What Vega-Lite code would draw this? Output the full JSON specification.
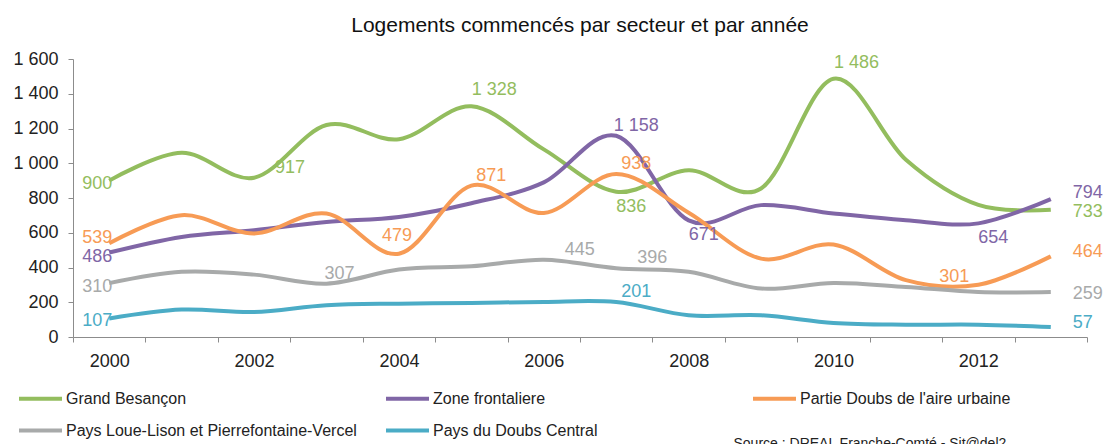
{
  "$schema": "https://vega.github.io/schema/vega-lite/v6.json",
  "width": 1014,
  "height": 278,
  "autosize": {"type": "none"},
  "padding": {"left": 73, "top": 59, "right": 18, "bottom": 107},
  "background": "white",
  "config": {
    "locale": {"number": {"decimal": ",", "thousands": " ", "grouping": [3], "currency": ["", " €"]}},
    "font": "Liberation Sans",
    "view": {"stroke": null}
  },
  "title": {
    "text": "Logements commencés par secteur et par année",
    "fontSize": 21,
    "fontWeight": "normal",
    "color": "#111111",
    "anchor": "middle",
    "offset": 14
  },
  "data": {
    "values": [
      {"secteur": "Grand Besançon", "annee": 2000, "logements": 900},
      {"secteur": "Grand Besançon", "annee": 2001, "logements": 1060},
      {"secteur": "Grand Besançon", "annee": 2002, "logements": 917},
      {"secteur": "Grand Besançon", "annee": 2003, "logements": 1220},
      {"secteur": "Grand Besançon", "annee": 2004, "logements": 1138},
      {"secteur": "Grand Besançon", "annee": 2005, "logements": 1328},
      {"secteur": "Grand Besançon", "annee": 2006, "logements": 1080},
      {"secteur": "Grand Besançon", "annee": 2007, "logements": 836},
      {"secteur": "Grand Besançon", "annee": 2008, "logements": 960},
      {"secteur": "Grand Besançon", "annee": 2009, "logements": 855},
      {"secteur": "Grand Besançon", "annee": 2010, "logements": 1486},
      {"secteur": "Grand Besançon", "annee": 2011, "logements": 1020},
      {"secteur": "Grand Besançon", "annee": 2012, "logements": 760},
      {"secteur": "Grand Besançon", "annee": 2013, "logements": 733},
      {"secteur": "Zone frontaliere", "annee": 2000, "logements": 486},
      {"secteur": "Zone frontaliere", "annee": 2001, "logements": 576},
      {"secteur": "Zone frontaliere", "annee": 2002, "logements": 615},
      {"secteur": "Zone frontaliere", "annee": 2003, "logements": 662},
      {"secteur": "Zone frontaliere", "annee": 2004, "logements": 691},
      {"secteur": "Zone frontaliere", "annee": 2005, "logements": 770},
      {"secteur": "Zone frontaliere", "annee": 2006, "logements": 890},
      {"secteur": "Zone frontaliere", "annee": 2007, "logements": 1158},
      {"secteur": "Zone frontaliere", "annee": 2008, "logements": 671},
      {"secteur": "Zone frontaliere", "annee": 2009, "logements": 759},
      {"secteur": "Zone frontaliere", "annee": 2010, "logements": 711},
      {"secteur": "Zone frontaliere", "annee": 2011, "logements": 672},
      {"secteur": "Zone frontaliere", "annee": 2012, "logements": 654},
      {"secteur": "Zone frontaliere", "annee": 2013, "logements": 794},
      {"secteur": "Partie Doubs de l'aire urbaine", "annee": 2000, "logements": 539},
      {"secteur": "Partie Doubs de l'aire urbaine", "annee": 2001, "logements": 701},
      {"secteur": "Partie Doubs de l'aire urbaine", "annee": 2002, "logements": 596},
      {"secteur": "Partie Doubs de l'aire urbaine", "annee": 2003, "logements": 711},
      {"secteur": "Partie Doubs de l'aire urbaine", "annee": 2004, "logements": 479},
      {"secteur": "Partie Doubs de l'aire urbaine", "annee": 2005, "logements": 871},
      {"secteur": "Partie Doubs de l'aire urbaine", "annee": 2006, "logements": 714},
      {"secteur": "Partie Doubs de l'aire urbaine", "annee": 2007, "logements": 938},
      {"secteur": "Partie Doubs de l'aire urbaine", "annee": 2008, "logements": 715},
      {"secteur": "Partie Doubs de l'aire urbaine", "annee": 2009, "logements": 451},
      {"secteur": "Partie Doubs de l'aire urbaine", "annee": 2010, "logements": 532},
      {"secteur": "Partie Doubs de l'aire urbaine", "annee": 2011, "logements": 327},
      {"secteur": "Partie Doubs de l'aire urbaine", "annee": 2012, "logements": 301},
      {"secteur": "Partie Doubs de l'aire urbaine", "annee": 2013, "logements": 464},
      {"secteur": "Pays Loue-Lison et Pierrefontaine-Vercel", "annee": 2000, "logements": 310},
      {"secteur": "Pays Loue-Lison et Pierrefontaine-Vercel", "annee": 2001, "logements": 375},
      {"secteur": "Pays Loue-Lison et Pierrefontaine-Vercel", "annee": 2002, "logements": 359},
      {"secteur": "Pays Loue-Lison et Pierrefontaine-Vercel", "annee": 2003, "logements": 307},
      {"secteur": "Pays Loue-Lison et Pierrefontaine-Vercel", "annee": 2004, "logements": 388},
      {"secteur": "Pays Loue-Lison et Pierrefontaine-Vercel", "annee": 2005, "logements": 407},
      {"secteur": "Pays Loue-Lison et Pierrefontaine-Vercel", "annee": 2006, "logements": 445},
      {"secteur": "Pays Loue-Lison et Pierrefontaine-Vercel", "annee": 2007, "logements": 396},
      {"secteur": "Pays Loue-Lison et Pierrefontaine-Vercel", "annee": 2008, "logements": 375},
      {"secteur": "Pays Loue-Lison et Pierrefontaine-Vercel", "annee": 2009, "logements": 279},
      {"secteur": "Pays Loue-Lison et Pierrefontaine-Vercel", "annee": 2010, "logements": 311},
      {"secteur": "Pays Loue-Lison et Pierrefontaine-Vercel", "annee": 2011, "logements": 288},
      {"secteur": "Pays Loue-Lison et Pierrefontaine-Vercel", "annee": 2012, "logements": 259},
      {"secteur": "Pays Loue-Lison et Pierrefontaine-Vercel", "annee": 2013, "logements": 259},
      {"secteur": "Pays du Doubs Central", "annee": 2000, "logements": 107},
      {"secteur": "Pays du Doubs Central", "annee": 2001, "logements": 158},
      {"secteur": "Pays du Doubs Central", "annee": 2002, "logements": 144},
      {"secteur": "Pays du Doubs Central", "annee": 2003, "logements": 183},
      {"secteur": "Pays du Doubs Central", "annee": 2004, "logements": 192},
      {"secteur": "Pays du Doubs Central", "annee": 2005, "logements": 196},
      {"secteur": "Pays du Doubs Central", "annee": 2006, "logements": 202},
      {"secteur": "Pays du Doubs Central", "annee": 2007, "logements": 201},
      {"secteur": "Pays du Doubs Central", "annee": 2008, "logements": 125},
      {"secteur": "Pays du Doubs Central", "annee": 2009, "logements": 125},
      {"secteur": "Pays du Doubs Central", "annee": 2010, "logements": 81},
      {"secteur": "Pays du Doubs Central", "annee": 2011, "logements": 71},
      {"secteur": "Pays du Doubs Central", "annee": 2012, "logements": 71},
      {"secteur": "Pays du Doubs Central", "annee": 2013, "logements": 57}
    ]
  },
  "encoding": {
    "x": {
      "field": "annee",
      "type": "quantitative",
      "scale": {"domain": [1999.5, 2013.5], "nice": false, "zero": false},
      "axis": {
        "values": [1999.5, 2000, 2000.5, 2001, 2001.5, 2002, 2002.5, 2003, 2003.5, 2004, 2004.5, 2005, 2005.5, 2006, 2006.5, 2007, 2007.5, 2008, 2008.5, 2009, 2009.5, 2010, 2010.5, 2011, 2011.5, 2012, 2012.5, 2013, 2013.5],
        "labelExpr": "datum.value % 2 == 0 ? format(datum.value, 'd') : ''",
        "tickOpacity": {"condition": {"test": "datum.value % 1 == 0", "value": 0}, "value": 1},
        "grid": false,
        "domainColor": "#8c8c8c",
        "tickColor": "#8c8c8c",
        "tickSize": 5,
        "labelFontSize": 18,
        "labelColor": "#222222",
        "labelPadding": 10,
        "labelFlush": false,
        "labelOverlap": false,
        "labelBound": false,
        "title": "Source : DREAL Franche-Comté - Sit@del2",
        "titleX": 660,
        "titleY": 110,
        "titleAlign": "left",
        "titleBaseline": "alphabetic",
        "titleFontSize": 14,
        "titleFontWeight": "normal",
        "titleColor": "#222222"
      }
    },
    "y": {
      "field": "logements",
      "type": "quantitative",
      "scale": {"domain": [0, 1600], "nice": false},
      "axis": {
        "values": [0, 200, 400, 600, 800, 1000, 1200, 1400, 1600],
        "format": ",d",
        "grid": false,
        "title": null,
        "domainColor": "#8c8c8c",
        "tickColor": "#8c8c8c",
        "tickSize": 5,
        "labelFontSize": 18,
        "labelColor": "#222222",
        "labelPadding": 10,
        "labelFlush": false,
        "labelOverlap": false,
        "labelBound": false
      }
    },
    "color": {
      "field": "secteur",
      "type": "nominal",
      "scale": {
        "domain": ["Grand Besançon", "Zone frontaliere", "Partie Doubs de l'aire urbaine", "Pays Loue-Lison et Pierrefontaine-Vercel", "Pays du Doubs Central"],
        "range": ["#93bd5e", "#8066a6", "#f79b55", "#a8aaaa", "#4bacc6"]
      },
      "legend": {
        "orient": "none",
        "legendX": -56,
        "legendY": 316,
        "direction": "horizontal",
        "columns": 3,
        "gridAlign": "all",
        "columnPadding": 21,
        "rowPadding": -23,
        "symbolType": "stroke",
        "symbolSize": 1849,
        "symbolStrokeWidth": 4,
        "labelFontSize": 16,
        "labelColor": "#222222",
        "labelLimit": 400,
        "labelOffset": 2,
        "title": null,
        "padding": 0
      }
    }
  },
  "layer": [
    {
      "mark": {"type": "line", "interpolate": "cardinal", "strokeWidth": 4}
    },
    {
      "transform": [{"filter": "datum.annee == 2000 && (datum.secteur == 'Grand Besançon' || datum.secteur == 'Pays du Doubs Central')"}],
      "mark": {"type": "text", "align": "right", "baseline": "middle", "dx": 3, "dy": 3, "fontSize": 18},
      "encoding": {"text": {"field": "logements", "type": "quantitative", "format": ",d"}}
    },
    {
      "transform": [{"filter": "datum.annee == 2000 && (datum.secteur == 'Zone frontaliere' || datum.secteur == 'Pays Loue-Lison et Pierrefontaine-Vercel')"}],
      "mark": {"type": "text", "align": "right", "baseline": "middle", "dx": 3, "dy": 4, "fontSize": 18},
      "encoding": {"text": {"field": "logements", "type": "quantitative", "format": ",d"}}
    },
    {
      "transform": [{"filter": "datum.annee == 2000 && datum.secteur == \"Partie Doubs de l'aire urbaine\""}],
      "mark": {"type": "text", "align": "right", "baseline": "middle", "dx": 3, "dy": -5, "fontSize": 18},
      "encoding": {"text": {"field": "logements", "type": "quantitative", "format": ",d"}}
    },
    {
      "transform": [{"filter": "datum.annee == 2013 && datum.secteur == 'Zone frontaliere'"}],
      "mark": {"type": "text", "align": "left", "baseline": "middle", "dx": 22, "dy": -6, "fontSize": 18},
      "encoding": {"text": {"field": "logements", "type": "quantitative", "format": ",d"}}
    },
    {
      "transform": [{"filter": "datum.annee == 2013 && (datum.secteur == 'Pays du Doubs Central' || datum.secteur == \"Partie Doubs de l'aire urbaine\")"}],
      "mark": {"type": "text", "align": "left", "baseline": "middle", "dx": 22, "dy": -4, "fontSize": 18},
      "encoding": {"text": {"field": "logements", "type": "quantitative", "format": ",d"}}
    },
    {
      "transform": [{"filter": "datum.annee == 2013 && (datum.secteur == 'Grand Besançon' || datum.secteur == 'Pays Loue-Lison et Pierrefontaine-Vercel')"}],
      "mark": {"type": "text", "align": "left", "baseline": "middle", "dx": 22, "dy": 2, "fontSize": 18},
      "encoding": {"text": {"field": "logements", "type": "quantitative", "format": ",d"}}
    },
    {
      "transform": [{"filter": "indexof(['Grand Besançon|2005', 'Grand Besançon|2010'], datum.secteur + '|' + datum.annee) >= 0"}],
      "mark": {"type": "text", "align": "center", "baseline": "middle", "dx": 23, "dy": -16, "fontSize": 18},
      "encoding": {"text": {"field": "logements", "type": "quantitative", "format": ",d"}}
    },
    {
      "transform": [{"filter": "indexof(['Zone frontaliere|2007', \"Partie Doubs de l'aire urbaine|2005\", \"Partie Doubs de l'aire urbaine|2007\", 'Pays du Doubs Central|2007'], datum.secteur + '|' + datum.annee) >= 0"}],
      "mark": {"type": "text", "align": "center", "baseline": "middle", "dx": 20, "dy": -10, "fontSize": 18},
      "encoding": {"text": {"field": "logements", "type": "quantitative", "format": ",d"}}
    },
    {
      "transform": [{"filter": "indexof(['Pays Loue-Lison et Pierrefontaine-Vercel|2003'], datum.secteur + '|' + datum.annee) >= 0"}],
      "mark": {"type": "text", "align": "center", "baseline": "middle", "dx": 13, "dy": -10, "fontSize": 18},
      "encoding": {"text": {"field": "logements", "type": "quantitative", "format": ",d"}}
    },
    {
      "transform": [{"filter": "indexof(['Grand Besançon|2002', 'Pays Loue-Lison et Pierrefontaine-Vercel|2006', 'Pays Loue-Lison et Pierrefontaine-Vercel|2007'], datum.secteur + '|' + datum.annee) >= 0"}],
      "mark": {"type": "text", "align": "center", "baseline": "middle", "dx": 36, "dy": -10, "fontSize": 18},
      "encoding": {"text": {"field": "logements", "type": "quantitative", "format": ",d"}}
    },
    {
      "transform": [{"filter": "datum.secteur == \"Partie Doubs de l'aire urbaine\" && datum.annee == 2004"}],
      "mark": {"type": "text", "align": "center", "baseline": "middle", "dx": -2, "dy": -18, "fontSize": 18},
      "encoding": {"text": {"field": "logements", "type": "quantitative", "format": ",d"}}
    },
    {
      "transform": [{"filter": "datum.secteur == \"Partie Doubs de l'aire urbaine\" && datum.annee == 2012"}],
      "mark": {"type": "text", "align": "center", "baseline": "middle", "dx": -24, "dy": -8, "fontSize": 18},
      "encoding": {"text": {"field": "logements", "type": "quantitative", "format": ",d"}}
    },
    {
      "transform": [{"filter": "indexof(['Grand Besançon|2007', 'Zone frontaliere|2008', 'Zone frontaliere|2012'], datum.secteur + '|' + datum.annee) >= 0"}],
      "mark": {"type": "text", "align": "center", "baseline": "middle", "dx": 15, "dy": 15, "fontSize": 18},
      "encoding": {"text": {"field": "logements", "type": "quantitative", "format": ",d"}}
    }
  ]
}
